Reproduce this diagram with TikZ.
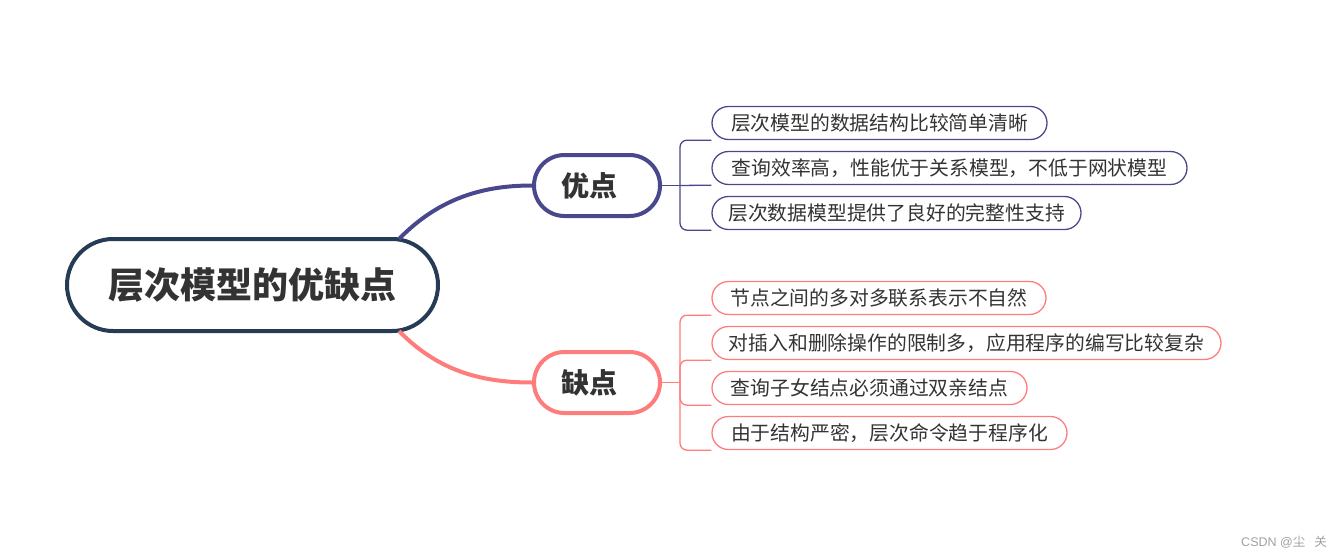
\documentclass[tikz,border=0pt]{standalone}
\usepackage{fontspec}
\newfontfamily\cjk{Noto Sans CJK SC}
\newfontfamily\latinwm{Liberation Sans}
\definecolor{rootc}{RGB}{38,60,86}
\definecolor{cone}{RGB}{74,72,140}
\definecolor{ctwo}{RGB}{255,124,124}
\definecolor{txt}{RGB}{51,51,51}
\definecolor{wm}{RGB}{160,160,160}
\tikzset{
  rootbox/.style={draw=rootc, line width=4pt, rounded corners=46pt, minimum width=371pt, minimum height=92pt, inner sep=0pt, text=txt, font=\cjk\bfseries\fontsize{36}{42}\selectfont},
  branchbox/.style={draw=#1, line width=4pt, rounded corners=30.5pt, minimum width=126pt, minimum height=61pt, inner sep=0pt, text=txt, font=\cjk\bfseries\fontsize{28}{32}\selectfont},
  leafbox/.style={draw=#1, line width=1.3pt, rounded corners=16.5pt, minimum height=33pt, inner sep=0pt, text=txt, font=\cjk\fontsize{19.8}{24}\selectfont},
  mainconn/.style={draw=#1, line width=4pt},
  subconn/.style={draw=#1, line width=1.3pt, rounded corners=7pt},
}
\begin{document}
\begin{tikzpicture}[x=1pt,y=-1pt]
\useasboundingbox (0,0) rectangle (1342,557);
% root and branches
\node[rootbox] (root) at (252.5,285) {层次模型的优缺点};
\node[branchbox=cone] (pro) at (597,185.5) {优点\hspace*{15pt}};
\node[branchbox=ctwo] (con) at (597,382.5) {缺点\hspace*{15pt}};
\coordinate (rt) at (399,239);
\coordinate (rb) at (399,331);
\draw[mainconn=cone] (rt) .. controls (440,197) and (485,185.5) .. (pro.west);
\draw[mainconn=ctwo] (rb) .. controls (440,373) and (485,382.5) .. (con.west);
% leaves top
\node[leafbox=cone, minimum width=335pt] (p1) at (879.5,123) {层次模型的数据结构比较简单清晰};
\node[leafbox=cone, minimum width=475pt] (p2) at (949.5,168) {查询效率高，性能优于关系模型，不低于网状模型};
\node[leafbox=cone, minimum width=369pt] (p3) at (896.5,213) {层次数据模型提供了良好的完整性支持};
% leaves bottom
\node[leafbox=ctwo, minimum width=334pt] (c1) at (879,298) {节点之间的多对多联系表示不自然};
\node[leafbox=ctwo, minimum width=509pt] (c2) at (966.5,343) {对插入和删除操作的限制多，应用程序的编写比较复杂};
\node[leafbox=ctwo, minimum width=315pt] (c3) at (869.5,388) {查询子女结点必须通过双亲结点};
\node[leafbox=ctwo, minimum width=355pt] (c4) at (889.5,433) {由于结构严密，层次命令趋于程序化};
% brackets top
\coordinate (jp) at (680,185.5);
\draw[subconn=cone] (pro.east) -- (jp);
\draw[subconn=cone] (jp) |- (p1.south west);
\draw[subconn=cone] (jp) -- (p2.south west);
\draw[subconn=cone] (jp) |- (p3.south west);
% brackets bottom
\coordinate (jc) at (680,382.5);
\draw[subconn=ctwo] (con.east) -- (jc);
\draw[subconn=ctwo] (jc) |- (c1.south west);
\draw[subconn=ctwo] (jc) |- (c2.south west);
\draw[subconn=ctwo] (jc) |- (c3.south west);
\draw[subconn=ctwo] (jc) |- (c4.south west);
% watermark
\node[text=wm, inner sep=0pt, anchor=east, font=\fontsize{12.5}{14}\selectfont] (wmark) at (1327,542) {\latinwm CSDN @\cjk 尘\hspace*{9pt}关};
\end{tikzpicture}
\end{document}
